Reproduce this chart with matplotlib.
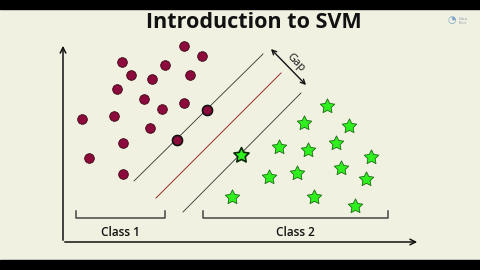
import numpy as np
import matplotlib.pyplot as plt
from matplotlib.path import Path

# class 1 points (pixel-like units, y grows downward)
class1_x = [184, 202, 122, 165, 131, 152, 190, 117, 144, 162, 184, 207, 82, 114, 150, 177, 123, 89, 123]
class1_y = [46, 56, 62, 65, 75, 79, 75, 89, 99, 109, 103, 110, 119, 116, 128, 140, 143, 158, 174]
# class 2 points
class2_x = [327, 304, 349, 279, 308, 336, 241, 371, 269, 297, 341, 366, 232, 314, 355]
class2_y = [106, 123, 126, 147, 150, 143, 155, 157, 177, 173, 168, 179, 197, 197, 206]
support1 = [11, 15]   # indices of class 1 support vectors
support2 = [6]        # index of class 2 support vector

# separating lines: (x0, y0, x1, y1)
upper_margin = [134, 181, 263, 54]
hyperplane = [156, 198, 281, 73]
lower_margin = [183, 212, 301, 93]

class_labels = ['Class 1', 'Class 2']
bracket_x = [(76, 165), (203, 388)]

bg = '#f1f1e1'
maroon = '#8c0b3c'
green = '#2ff01e'

# fat five-point star marker
ang = np.pi / 2 + np.arange(10) * np.pi / 5
rad = np.where(np.arange(10) % 2 == 0, 1.0, 0.5)
verts = np.column_stack([rad * np.cos(ang), rad * np.sin(ang)])
star = Path(np.vstack([verts, verts[:1]]), closed=True)

fig = plt.figure(figsize=(4.8, 2.7), dpi=100, facecolor=bg)
ax = fig.add_axes([0, 0, 1, 1])
ax.set_xlim(0, 480)
ax.set_ylim(270, 0)
ax.axis('off')
ax.set_facecolor(bg)

# letterbox bars
ax.axhspan(0, 9, color='black', zorder=5)
ax.axhspan(260, 270, color='black', zorder=5)

plt.rcParams['font.family'] = ['Open Sans', 'DejaVu Sans']
ax.text(254, 23, 'Introduction to SVM', ha='center', va='center', fontsize=15.5,
        fontweight='bold', color='#111111')

# watermark logo
ax.text(452, 21, '\u25d4', ha='center', va='center', fontsize=7, color='#5a8fc4', alpha=0.8)
ax.text(463, 21, 'Data\nFlair', ha='center', va='center', fontsize=3, color='#8a9bb0',
        linespacing=0.9)

# axes arrows
ax.annotate('', xy=(63, 43), xytext=(63, 243),
            arrowprops=dict(arrowstyle='->', lw=1.1, color='#111111', mutation_scale=10))
ax.annotate('', xy=(420, 242), xytext=(62, 242),
            arrowprops=dict(arrowstyle='->', lw=1.1, color='#111111', mutation_scale=10))

# lines
for seg, col, lw in [(upper_margin, '#333333', 0.6), (hyperplane, '#9b2a2a', 0.7),
                     (lower_margin, '#333333', 0.6)]:
    ax.plot([seg[0], seg[2]], [seg[1], seg[3]], color=col, lw=lw, zorder=2)

# gap arrow
ax.annotate('', xy=(269, 47), xytext=(308, 87),
            arrowprops=dict(arrowstyle='<->', lw=1.0, color='#111111', mutation_scale=8))
ax.text(296, 63, 'Gap', ha='center', va='center', rotation=-46, fontsize=8, color='#111111')

# points
ax.scatter(class1_x, class1_y, s=48, c=maroon, edgecolors='#3a0615', linewidths=0.6, zorder=3)
ax.scatter([class1_x[i] for i in support1], [class1_y[i] for i in support1], s=52,
           c=maroon, edgecolors='#111111', linewidths=1.2, zorder=4)
ax.scatter(class2_x, class2_y, s=120, marker=star, c=green, edgecolors='#1b6b14',
           linewidths=0.6, zorder=3)
ax.scatter([class2_x[i] for i in support2], [class2_y[i] for i in support2], s=130,
           marker=star, c=green, edgecolors='#0b2a08', linewidths=1.2, zorder=4)

# brackets and class labels
for (x0, x1), lab in zip(bracket_x, class_labels):
    ax.plot([x0, x0, x1, x1], [211, 218, 218, 211], color='#444444', lw=1.1)
    ax.text((x0 + x1) / 2, 232, lab, ha='center', va='center', fontsize=8.5,
            fontweight='semibold', color='#111111')

fig.savefig('out.png', dpi=100, facecolor=bg)
